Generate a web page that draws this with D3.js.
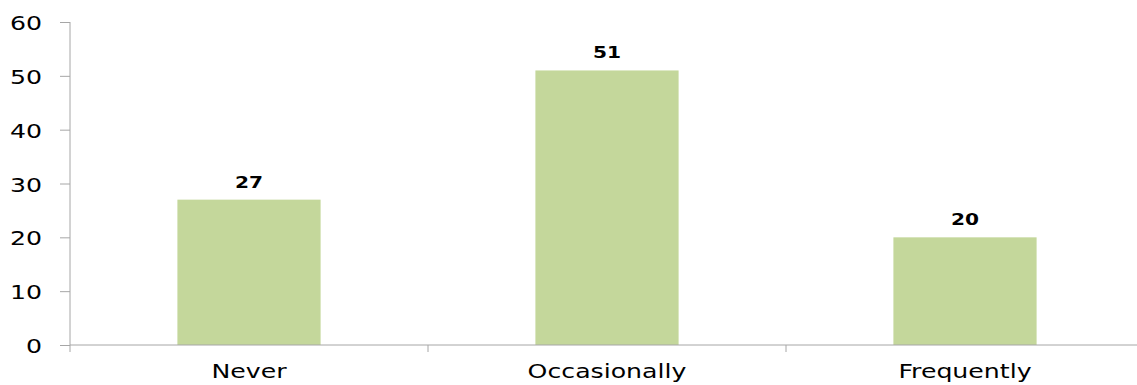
<!DOCTYPE html>
<html>
<head>
<meta charset="utf-8">
<script src="https://cdn.jsdelivr.net/npm/d3@7"></script>
<style>
  html, body { margin: 0; padding: 0; background: #fff; }
  svg { display: block; }
</style>
</head>
<body>
<svg id="chart" width="1137" height="385"></svg>
<script>
// Survey responses by frequency
const categories = ["Never", "Occasionally", "Frequently"];
const counts = [27, 51, 20];
const yTicks = [0, 10, 20, 30, 40, 50, 60];

const svg = d3.select("#chart");
const plotLeft = 70, plotRight = 1144, plotTop = 22, plotBottom = 345;
const stretch = 1.26; // wide lettering

const x = d3.scaleBand()
  .domain(categories)
  .range([plotLeft, plotRight])
  .paddingInner(0.6)
  .paddingOuter(0.3);

const y = d3.scaleLinear().domain([0, 60]).range([plotBottom, plotTop]);

const axisColor = "#a6a6a6";
const font = "DejaVu Sans, Verdana, sans-serif";

// Place a text at (px, py) with horizontal stretch
function wideText(sel, px, py) {
  sel.attr("x", 0).attr("y", 0)
    .attr("transform", (d, i) => `translate(${px(d, i)},${py(d, i)}) scale(${stretch},1)`);
}

// Y axis
const yAxis = svg.append("g")
  .attr("transform", `translate(${plotLeft},0)`)
  .call(d3.axisLeft(y).tickValues(yTicks).tickSize(10).tickPadding(18).tickSizeOuter(0));
yAxis.select(".domain").attr("stroke", axisColor).attr("d", `M0,${plotTop}V${plotBottom + 7}`);
yAxis.selectAll(".tick line").attr("stroke", axisColor);
yAxis.selectAll(".tick text")
  .attr("fill", "#000")
  .attr("dy", null)
  .style("font-family", font)
  .style("font-size", "20px")
  .call(wideText, () => -28, () => 7.5);

// Bars
svg.append("g").selectAll("rect")
  .data(counts)
  .join("rect")
  .attr("x", (d, i) => x(categories[i]))
  .attr("y", d => y(d))
  .attr("width", x.bandwidth())
  .attr("height", d => y(0) - y(d))
  .attr("fill", "#c4d79b");

// X axis
svg.append("line")
  .attr("x1", plotLeft).attr("x2", 1137)
  .attr("y1", plotBottom).attr("y2", plotBottom)
  .attr("stroke", axisColor);
const step = x.step();
svg.append("g").selectAll("line")
  .data(categories.slice(1))
  .join("line")
  .attr("x1", d => x(d) - step * x.paddingInner() / 2)
  .attr("x2", d => x(d) - step * x.paddingInner() / 2)
  .attr("y1", plotBottom).attr("y2", plotBottom + 7)
  .attr("stroke", axisColor);

svg.append("g").selectAll("text")
  .data(categories)
  .join("text")
  .attr("text-anchor", "middle")
  .style("font-family", font)
  .style("font-size", "20px")
  .text(d => d)
  .call(wideText, d => x(d) + x.bandwidth() / 2, () => 378);

// Value labels
svg.append("g").selectAll("text")
  .data(counts)
  .join("text")
  .attr("text-anchor", "middle")
  .style("font-family", font)
  .style("font-size", "16px")
  .style("font-weight", "bold")
  .text(d => d)
  .call(wideText, (d, i) => x(categories[i]) + x.bandwidth() / 2, d => y(d) - 12);
</script>
</body>
</html>
